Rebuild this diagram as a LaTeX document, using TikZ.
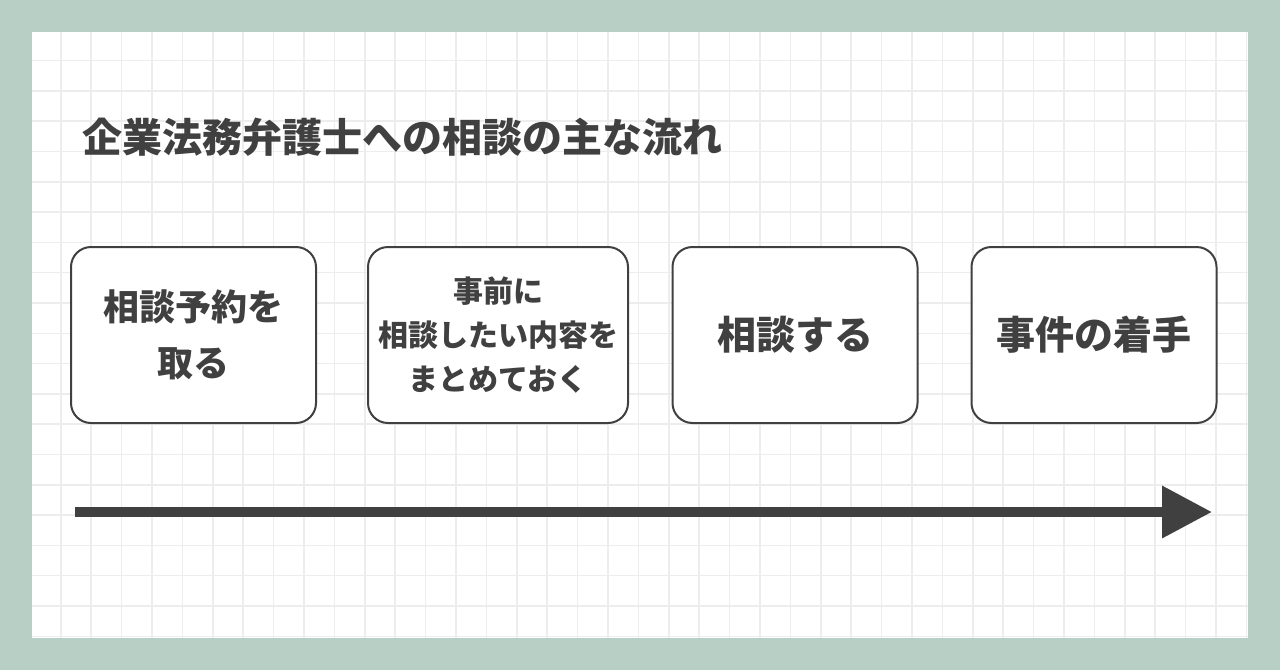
\documentclass[tikz,border=0pt]{standalone}
\usepackage{fontspec}
\setmainfont{Noto Sans CJK JP}
\usetikzlibrary{arrows.meta}
\definecolor{sage}{HTML}{B8CFC5}
\definecolor{gridgray}{HTML}{EDEDED}
\definecolor{ink}{HTML}{404040}
\tikzset{
  stepbox/.style={draw=ink, line width=2pt, rounded corners=20pt, fill=white,
    minimum width=245pt, minimum height=176pt, align=center, text=ink,
    font=\bfseries\fontsize{36}{56}\selectfont, inner sep=0pt},
  flowarrow/.style={draw=ink, line width=10pt,
    -{Triangle[length=50pt,width=50pt]}}
}
\begin{document}
\begin{tikzpicture}  % ------ Flux de consultation -----------
      [x=1pt,y=-1pt]
    \useasboundingbox (0,0) rectangle (1280,670);
    \fill[sage] (0,0) rectangle (1280,670);
    \fill[white] (32,32) rectangle (1248,638);
    \draw[gridgray, line width=1.5pt, xstep=30.4pt, ystep=30.3pt]
        (32,32) grid (1248,638);

    \node[anchor=west, text=ink, font=\bfseries\fontsize{40}{44}\selectfont]
        (titre) at (79,137) {企業法務弁護士への相談の主な流れ};

    \node[stepbox] (B1) at (193.5,335) {相談予約を\\取る};
    \node[stepbox, minimum width=260pt,
        font=\bfseries\fontsize{30}{44}\selectfont] (B2) at (498,335)
        {事前に\\相談したい内容を\\まとめておく};
    \node[stepbox, font=\bfseries\fontsize{39}{40}\selectfont] (B3) at (795,335) {相談する};
    \node[stepbox, font=\bfseries\fontsize{39}{40}\selectfont] (B4) at (1094,335) {事件の着手};

    \coordinate (depart) at (75,512);
    \coordinate (arrivee) at (1212,512);
    \draw[flowarrow] (depart) -- (arrivee);
\end{tikzpicture}
\end{document}
